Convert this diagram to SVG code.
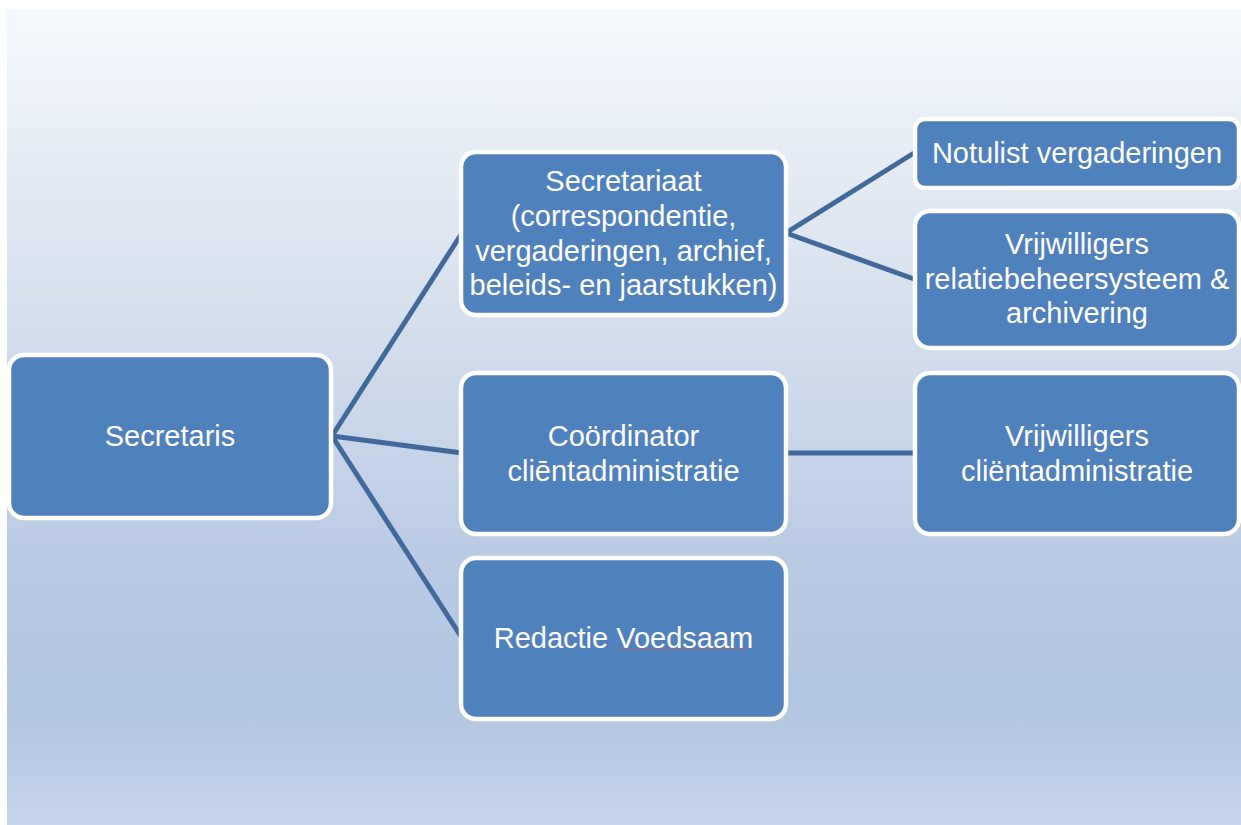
<svg xmlns="http://www.w3.org/2000/svg" width="1241" height="825" viewBox="0 0 1241 825">
  <defs>
    <linearGradient id="bg" gradientUnits="userSpaceOnUse" x1="0" y1="9" x2="0" y2="825">
      <stop offset="0" stop-color="#f5f8fc"/>
      <stop offset="0.443" stop-color="#cfdbeb"/>
      <stop offset="0.663" stop-color="#bacce4"/>
      <stop offset="0.847" stop-color="#b1c6e1"/>
      <stop offset="1" stop-color="#c4d4e9"/>
    </linearGradient>
    <style>
      .box { fill: #4f81bd; stroke: #ffffff; stroke-width: 4.5; }
      .lbl { font-family: "Liberation Sans", Arial, sans-serif; font-size: 29px; fill: #ffffff; text-anchor: middle; }
      .conn { stroke: #41699b; stroke-width: 5; fill: none; stroke-linecap: butt; }
    </style>
  </defs>
  <rect x="0" y="0" width="1241" height="825" fill="#ffffff"/>
  <rect x="7" y="9" width="1234" height="816" fill="url(#bg)"/>

  <g id="connectors">
    <line class="conn" x1="332" y1="436" x2="462" y2="233"/>
    <line class="conn" x1="332" y1="436" x2="462" y2="453"/>
    <line class="conn" x1="332" y1="436" x2="462" y2="638"/>
    <polyline class="conn" points="914,153 786,233 914,279"/>
    <line class="conn" x1="786" y1="453" x2="914" y2="453"/>
  </g>

  <g id="node-secretaris">
    <rect class="box" x="9" y="355" width="322" height="163" rx="15"/>
    <text class="lbl" x="170" y="446">Secretaris</text>
  </g>

  <g id="node-secretariaat">
    <rect class="box" x="461" y="152" width="325" height="163" rx="15"/>
    <text class="lbl" x="623.5" y="190.5">Secretariaat</text>
    <text class="lbl" x="623.5" y="225.5">(correspondentie,</text>
    <text class="lbl" x="623.5" y="260.5">vergaderingen, archief,</text>
    <text class="lbl" x="623.5" y="295">beleids- en jaarstukken)</text>
  </g>

  <g id="node-coordinator">
    <rect class="box" x="461" y="373" width="325" height="161" rx="15"/>
    <text class="lbl" x="623.5" y="446">Coördinator</text>
    <text class="lbl" x="623.5" y="481">cliēntadministratie</text>
  </g>

  <g id="node-redactie">
    <rect class="box" x="461" y="558" width="325" height="161" rx="15"/>
    <text class="lbl" x="623.5" y="648">Redactie Voedsaam</text>
    <path d="M616,650 l2,-1 l2,1 l2,-1 l2,1 l2,-1 l2,1 l2,-1 l2,1 l2,-1 l2,1 l2,-1 l2,1 l2,-1 l2,1 l2,-1 l2,1 l2,-1 l2,1 l2,-1 l2,1 l2,-1 l2,1 l2,-1 l2,1 l2,-1 l2,1 l2,-1 l2,1 l2,-1 l2,1 l2,-1 l2,1 l2,-1 l2,1 l2,-1 l2,1 l2,-1 l2,1 l2,-1 l2,1 l2,-1 l2,1 l2,-1 l2,1 l2,-1 l2,1 l2,-1 l2,1 l2,-1 l2,1 l2,-1 l2,1 l2,-1 l2,1 l2,-1 l2,1 l2,-1 l2,1 l2,-1 l2,1 l2,-1 l2,1 l2,-1 l2,1 l2,-1 l2,1" fill="none" stroke="#d9534f" stroke-width="0.8" opacity="0.8"/>
  </g>

  <g id="node-notulist">
    <rect class="box" x="915" y="119" width="324" height="69" rx="10"/>
    <text class="lbl" x="1077" y="163">Notulist vergaderingen</text>
  </g>

  <g id="node-vrijwilligers-relatie">
    <rect class="box" x="915" y="211" width="324" height="137" rx="15"/>
    <text class="lbl" x="1077" y="254">Vrijwilligers</text>
    <text class="lbl" x="1077" y="289">relatiebeheersysteem &amp;</text>
    <text class="lbl" x="1077" y="323">archivering</text>
  </g>

  <g id="node-vrijwilligers-client">
    <rect class="box" x="915" y="373" width="324" height="161" rx="15"/>
    <text class="lbl" x="1077" y="446">Vrijwilligers</text>
    <text class="lbl" x="1077" y="481">cliëntadministratie</text>
  </g>
</svg>
